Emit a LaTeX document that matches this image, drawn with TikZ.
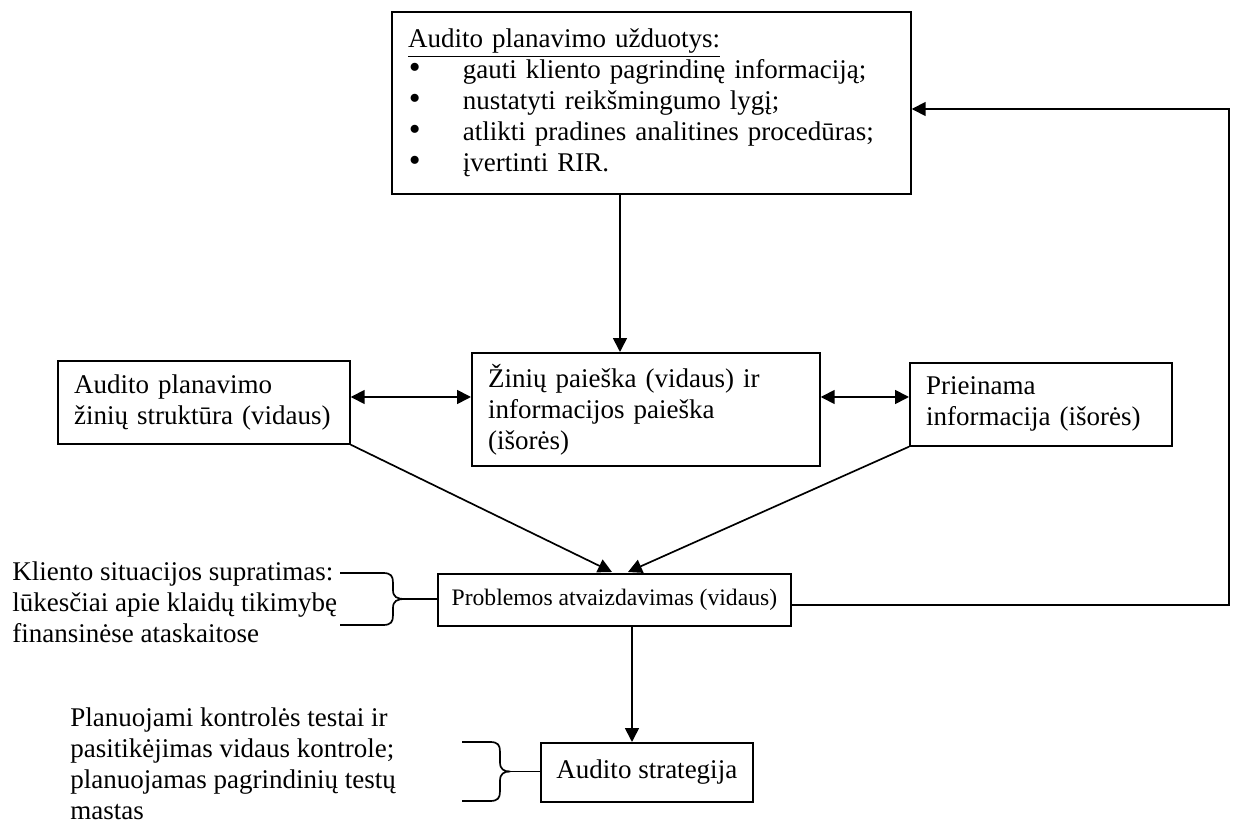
\documentclass[tikz,border=0pt]{standalone}
\usepackage{fontspec}
\setmainfont{Liberation Serif}
\usetikzlibrary{arrows.meta}

\newcommand{\bitem}[1]{\makebox[24.4pt][l]{\hspace{0.4pt}{\fontsize{15pt}{13.8pt}\selectfont\textbullet}}#1}

\begin{document}
\begin{tikzpicture}[
  x=0.4444pt, y=-0.4444pt,
  every node/.style={font=\fontsize{12pt}{13.8pt}\selectfont},
  box/.style={draw, line width=0.75pt, anchor=north west, align=left,
              inner xsep=7.2pt, inner ysep=0pt},
  free/.style={anchor=west, align=left, inner sep=0pt},
  link/.style={line width=0.75pt},
  arr/.style={line width=0.75pt, -{Triangle[length=6.2pt,width=6.2pt]}},
  arrb/.style={line width=0.75pt, {Triangle[length=6.2pt,width=6.2pt]}-{Triangle[length=6.2pt,width=6.2pt]}},
  brc/.style={line width=0.75pt, line join=round}
]
\useasboundingbox (0,0) rectangle (1237,834);

% planning tasks
\node[box, text width=216.26pt, minimum height=80.89pt] (T) at (391,11)
  {\underline{Audito planavimo užduotys:}\\
   \bitem{gauti kliento pagrindinę informaciją;}\\
   \bitem{nustatyti reikšmingumo lygį;}\\
   \bitem{atlikti pradines analitines procedūras;}\\
   \bitem{įvertinti RIR.}};

% middle row
\node[box, text width=115.38pt, minimum height=36.89pt] (L) at (57,360)
  {Audito planavimo\\ žinių struktūra (vidaus)};
\node[box, text width=140.27pt, minimum height=50.22pt] (M) at (471,352)
  {Žinių paieška (vidaus) ir\\ informacijos paieška\\ (išorės)};
\node[box, text width=102.04pt, minimum height=36.89pt] (P) at (909,362)
  {Prieinama\\ informacija (išorės)};

% problem representation and strategy
\node[box, align=center, inner xsep=0pt, minimum width=156.89pt, minimum height=23.11pt,
      font=\fontsize{10.5pt}{12.6pt}\selectfont] (Q) at (437,573)
  {Problemos atvaizdavimas (vidaus)};
\node[box, align=center, inner xsep=0pt, minimum width=94.22pt, minimum height=26.22pt] (S) at (540,742)
  {Audito strategija};

% side notes
\node[free] (K) at (12,602)
  {Kliento situacijos supratimas:\\ lūkesčiai apie klaidų tikimybę\\ finansinėse ataskaitose};
\node[free] (N) at (70,764)
  {Planuojami kontrolės testai ir\\ pasitikėjimas vidaus kontrole;\\ planuojamas pagrindinių testų\\ mastas};

% helper points
\coordinate (vx) at (620,0);
\coordinate (ay) at (0,397);
\coordinate (tipL) at (612,572);
\coordinate (tipR) at (628,572);
\coordinate (fbx) at (1229,605);
\coordinate (fbtop) at (1229,109);
\coordinate (qx) at (632,0);
\coordinate (cq) at (405,599);
\coordinate (cs) at (510,771.5);

% connectors
\draw[arr] (vx |- T.south) -- (vx |- M.north);
\draw[arrb] (L.east |- ay) -- (M.west |- ay);
\draw[arrb] (M.east |- ay) -- (P.west |- ay);
\draw[arr] (L.south east) -- (tipL);
\draw[arr] (P.south west) -- (tipR);
\draw[arr] (qx |- Q.south) -- (qx |- S.north);
\draw[arr] (Q.east |- fbx) -- (fbx) -- (fbtop) -- (T.east |- fbtop);

% braces
\draw[brc] (340,573) -- (383,573)
  .. controls (391,573) and (393,576) .. (393,583) -- (393,590)
  .. controls (393,597) and (397,599) .. (cq)
  .. controls (397,599) and (393,601) .. (393,608) -- (393,615)
  .. controls (393,622) and (391,625) .. (383,625) -- (340,625);
\draw[link] (cq) -- (Q.west |- cq);

\draw[brc] (462,742) -- (490,742)
  .. controls (498,742) and (500,745) .. (500,752) -- (500,762)
  .. controls (500,769.5) and (504,771.5) .. (cs)
  .. controls (504,771.5) and (500,773.5) .. (500,781) -- (500,791)
  .. controls (500,798) and (498,801) .. (490,801) -- (462,801);
\draw[link] (cs) -- (S.west |- cs);
\end{tikzpicture}
\end{document}
